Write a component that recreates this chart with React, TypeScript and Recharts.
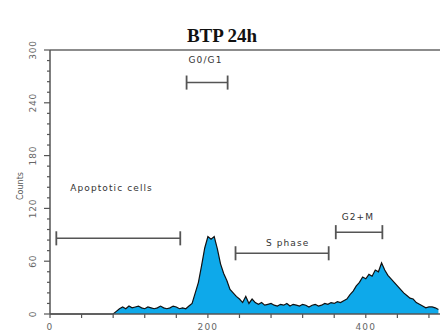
import React from 'react';
import { ComposedChart, Area, XAxis, YAxis, ReferenceLine, ReferenceDot } from 'recharts';

const channels = [0, 80, 84, 88, 92, 96, 100, 104, 108, 112, 116, 120, 124, 128, 132, 136, 140, 144, 148, 152, 156, 160, 164, 168, 172, 176, 180, 184, 188, 192, 196, 200, 204, 208, 212, 216, 220, 224, 228, 232, 236, 240, 244, 248, 252, 256, 260, 264, 268, 272, 276, 280, 284, 288, 292, 296, 300, 304, 308, 312, 316, 320, 324, 328, 332, 336, 340, 344, 348, 352, 356, 360, 364, 368, 372, 376, 380, 384, 388, 392, 396, 400, 404, 408, 412, 416, 420, 424, 428, 432, 436, 440, 444, 448, 452, 456, 460, 464, 468, 472, 476, 480, 484, 488, 492];
const counts = [0, 0, 3, 6, 8, 6, 9, 7, 8, 9, 7, 6, 8, 7, 6, 7, 9, 7, 6, 7, 9, 8, 6, 7, 6, 9, 12, 24, 36, 55, 75, 88, 85, 88, 74, 57, 46, 38, 28, 24, 20, 17, 13, 20, 12, 17, 13, 11, 13, 10, 11, 12, 10, 9, 11, 10, 12, 9, 11, 10, 9, 11, 10, 8, 10, 11, 9, 10, 12, 11, 13, 12, 14, 13, 15, 17, 22, 26, 32, 36, 42, 40, 45, 43, 50, 48, 58, 50, 44, 40, 36, 32, 28, 24, 21, 18, 17, 13, 11, 9, 7, 8, 8, 7, 5];

const yTicks = [0, 12, 24, 36, 48, 60, 72, 84, 96, 108, 120, 132, 144, 156, 168, 180, 192, 204, 216, 228, 240, 252, 264, 276, 288, 300];
const yLabeled = [0, 60, 120, 180, 240, 300];
const xTicks = [0, 40, 80, 120, 160, 200, 240, 280, 320, 360, 400, 440, 480];
const xLabeled = [0, 200, 400];

const gateNames = ['G0/G1', 'Apoptotic cells', 'S phase', 'G2+M'];
const gateStart = [173, 8, 235, 362];
const gateEnd = [225, 165, 353, 421];
const gateLevel = [263, 86, 69, 93];
const gateLabelX = [197, 78, 301, 390];
const gateLabelY = [289, 143, 81, 110];
const gateCap = 8;

const data = channels.map((c, i) => ({ ch: c, count: counts[i] }));

const GREY = '#555';
const labelFont = '"DejaVu Sans", sans-serif';

const YTick = (props: any) => {
  const { x, y, payload } = props;
  const v = payload.value;
  const major = yLabeled.includes(v);
  return (
    <g>
      <line x1={x - (major ? 6 : 3)} x2={x} y1={y} y2={y} stroke={GREY} strokeWidth={1.2} />
      {major && (
        <text
          x={33}
          y={y}
          transform={`rotate(-90, 33, ${y})`}
          textAnchor="middle"
          dominantBaseline="central"
          fontSize={9}
          fontFamily={labelFont}
          fill="#666"
          letterSpacing={0.8}
        >
          {v}
        </text>
      )}
    </g>
  );
};

const XTick = (props: any) => {
  const { x, y, payload } = props;
  const v = payload.value;
  const major = xLabeled.includes(v);
  return (
    <g>
      <line x1={x} x2={x} y1={y} y2={y + 4} stroke={GREY} strokeWidth={1.2} />
      {major && (
        <text
          x={x}
          y={y + 13}
          textAnchor="middle"
          dominantBaseline="central"
          fontSize={9}
          fontFamily={labelFont}
          fill="#666"
          letterSpacing={1.2}
        >
          {v}
        </text>
      )}
    </g>
  );
};

export default function App() {
  return (
    <div style={{ position: 'absolute', left: 0, top: 0, width: 440, height: 336, background: '#fff' }}>
      <ComposedChart width={440} height={336} data={data} margin={{ top: 50, right: 0, bottom: 0, left: 0 }}>
        <XAxis
          dataKey="ch"
          type="number"
          domain={[0, 494]}
          ticks={xTicks}
          tick={<XTick />}
          tickLine={false}
          tickSize={0}
          tickMargin={0}
          height={22}
          axisLine={{ stroke: GREY, strokeWidth: 1.5 }}
          interval={0}
          allowDataOverflow
        />
        <YAxis
          type="number"
          domain={[0, 300]}
          ticks={yTicks}
          tick={<YTick />}
          tickLine={false}
          tickSize={0}
          tickMargin={0}
          width={50}
          axisLine={{ stroke: GREY, strokeWidth: 1.5 }}
          interval={0}
        />
        <ReferenceLine y={300} stroke="#666" strokeWidth={1.5} />
        <Area
          type="linear"
          dataKey="count"
          stroke="#111"
          strokeWidth={1.2}
          fill="#0ea9ea"
          fillOpacity={1}
          isAnimationActive={false}
          dot={false}
        />
        {gateNames.map((n, i) => (
          <ReferenceLine
            key={'h' + n}
            segment={[{ x: gateStart[i], y: gateLevel[i] }, { x: gateEnd[i], y: gateLevel[i] }]}
            stroke={GREY}
            strokeWidth={1.5}
          />
        ))}
        {gateNames.map((n, i) => (
          <ReferenceLine
            key={'a' + n}
            segment={[{ x: gateStart[i], y: gateLevel[i] - gateCap }, { x: gateStart[i], y: gateLevel[i] + gateCap }]}
            stroke={GREY}
            strokeWidth={1.8}
          />
        ))}
        {gateNames.map((n, i) => (
          <ReferenceLine
            key={'b' + n}
            segment={[{ x: gateEnd[i], y: gateLevel[i] - gateCap }, { x: gateEnd[i], y: gateLevel[i] + gateCap }]}
            stroke={GREY}
            strokeWidth={1.8}
          />
        ))}
        {gateNames.map((n, i) => (
          <ReferenceDot
            key={'t' + n}
            x={gateLabelX[i]}
            y={gateLabelY[i]}
            r={0}
            shape={(p: any) => (
              <text
                x={p.cx}
                y={p.cy}
                textAnchor="middle"
                dominantBaseline="central"
                fontSize={9}
                fontFamily={labelFont}
                fill="#333"
                letterSpacing={1.1}
              >
                {n}
              </text>
            )}
          />
        ))}
        <text
          x={222}
          y={42}
          textAnchor="middle"
          fontSize={19}
          fontWeight="bold"
          fontFamily='"Liberation Serif", "Times New Roman", serif'
          fill="#111"
        >
          BTP 24h
        </text>
        <text
          x={20}
          y={186}
          transform="rotate(-90, 20, 186)"
          textAnchor="middle"
          dominantBaseline="central"
          fontSize={8}
          fontFamily={labelFont}
          fill="#555"
        >
          Counts
        </text>
      </ComposedChart>
    </div>
  );
}
